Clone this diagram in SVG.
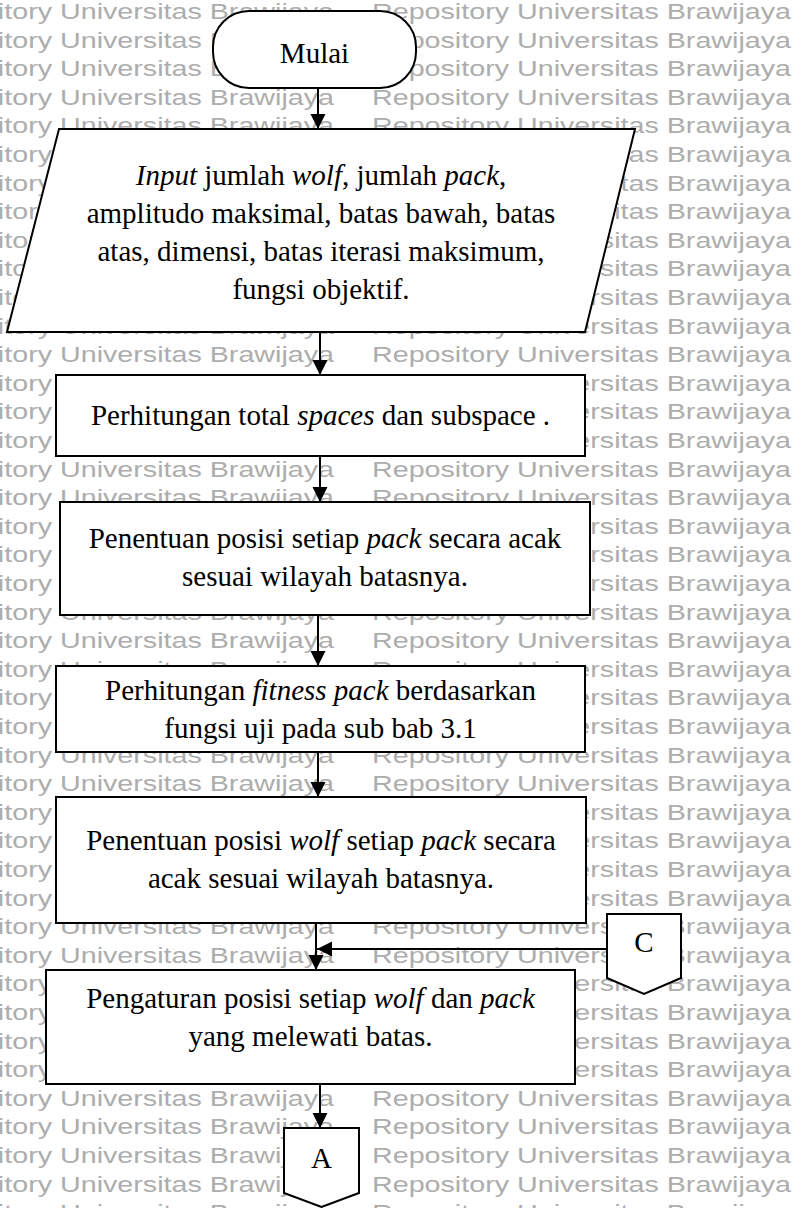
<svg xmlns="http://www.w3.org/2000/svg" xmlns:xlink="http://www.w3.org/1999/xlink" width="802" height="1208" viewBox="0 0 802 1208">
<style>
.wm{font-family:"Liberation Sans",Arial,sans-serif;font-size:22px;fill:#adadad}
.shape{fill:#fff;stroke:#000;stroke-width:2}
.lbl{font-family:"Liberation Serif","Times New Roman",serif;font-size:29px;fill:#000;text-anchor:middle}
.it{font-style:italic}
.con{fill:none;stroke:#000;stroke-width:2;marker-end:url(#ah)}
</style>
<defs>
<marker id="ah" markerUnits="userSpaceOnUse" markerWidth="16" markerHeight="16" refX="15" refY="7.5" orient="auto"><path d="M0,0 L15,7.5 L0,15 z" fill="#000"/></marker>
<text id="wmt" class="wm" textLength="419" lengthAdjust="spacingAndGlyphs">Repository Universitas Brawijaya</text>
</defs>
<rect width="802" height="1208" fill="#fff"/>
<g id="watermark">
<use xlink:href="#wmt" x="-85" y="19"/><use xlink:href="#wmt" x="372" y="19"/>
<use xlink:href="#wmt" x="-85" y="47.6"/><use xlink:href="#wmt" x="372" y="47.6"/>
<use xlink:href="#wmt" x="-85" y="76.2"/><use xlink:href="#wmt" x="372" y="76.2"/>
<use xlink:href="#wmt" x="-85" y="104.8"/><use xlink:href="#wmt" x="372" y="104.8"/>
<use xlink:href="#wmt" x="-85" y="133.4"/><use xlink:href="#wmt" x="372" y="133.4"/>
<use xlink:href="#wmt" x="-85" y="162"/><use xlink:href="#wmt" x="372" y="162"/>
<use xlink:href="#wmt" x="-85" y="190.6"/><use xlink:href="#wmt" x="372" y="190.6"/>
<use xlink:href="#wmt" x="-85" y="219.2"/><use xlink:href="#wmt" x="372" y="219.2"/>
<use xlink:href="#wmt" x="-85" y="247.8"/><use xlink:href="#wmt" x="372" y="247.8"/>
<use xlink:href="#wmt" x="-85" y="276.4"/><use xlink:href="#wmt" x="372" y="276.4"/>
<use xlink:href="#wmt" x="-85" y="305"/><use xlink:href="#wmt" x="372" y="305"/>
<use xlink:href="#wmt" x="-85" y="333.6"/><use xlink:href="#wmt" x="372" y="333.6"/>
<use xlink:href="#wmt" x="-85" y="362.2"/><use xlink:href="#wmt" x="372" y="362.2"/>
<use xlink:href="#wmt" x="-85" y="390.8"/><use xlink:href="#wmt" x="372" y="390.8"/>
<use xlink:href="#wmt" x="-85" y="419.4"/><use xlink:href="#wmt" x="372" y="419.4"/>
<use xlink:href="#wmt" x="-85" y="448"/><use xlink:href="#wmt" x="372" y="448"/>
<use xlink:href="#wmt" x="-85" y="476.6"/><use xlink:href="#wmt" x="372" y="476.6"/>
<use xlink:href="#wmt" x="-85" y="505.2"/><use xlink:href="#wmt" x="372" y="505.2"/>
<use xlink:href="#wmt" x="-85" y="533.8"/><use xlink:href="#wmt" x="372" y="533.8"/>
<use xlink:href="#wmt" x="-85" y="562.4"/><use xlink:href="#wmt" x="372" y="562.4"/>
<use xlink:href="#wmt" x="-85" y="591"/><use xlink:href="#wmt" x="372" y="591"/>
<use xlink:href="#wmt" x="-85" y="619.6"/><use xlink:href="#wmt" x="372" y="619.6"/>
<use xlink:href="#wmt" x="-85" y="648.2"/><use xlink:href="#wmt" x="372" y="648.2"/>
<use xlink:href="#wmt" x="-85" y="676.8"/><use xlink:href="#wmt" x="372" y="676.8"/>
<use xlink:href="#wmt" x="-85" y="705.4"/><use xlink:href="#wmt" x="372" y="705.4"/>
<use xlink:href="#wmt" x="-85" y="734"/><use xlink:href="#wmt" x="372" y="734"/>
<use xlink:href="#wmt" x="-85" y="762.6"/><use xlink:href="#wmt" x="372" y="762.6"/>
<use xlink:href="#wmt" x="-85" y="791.2"/><use xlink:href="#wmt" x="372" y="791.2"/>
<use xlink:href="#wmt" x="-85" y="819.8"/><use xlink:href="#wmt" x="372" y="819.8"/>
<use xlink:href="#wmt" x="-85" y="848.4"/><use xlink:href="#wmt" x="372" y="848.4"/>
<use xlink:href="#wmt" x="-85" y="877"/><use xlink:href="#wmt" x="372" y="877"/>
<use xlink:href="#wmt" x="-85" y="905.6"/><use xlink:href="#wmt" x="372" y="905.6"/>
<use xlink:href="#wmt" x="-85" y="934.2"/><use xlink:href="#wmt" x="372" y="934.2"/>
<use xlink:href="#wmt" x="-85" y="962.8"/><use xlink:href="#wmt" x="372" y="962.8"/>
<use xlink:href="#wmt" x="-85" y="991.4"/><use xlink:href="#wmt" x="372" y="991.4"/>
<use xlink:href="#wmt" x="-85" y="1020"/><use xlink:href="#wmt" x="372" y="1020"/>
<use xlink:href="#wmt" x="-85" y="1048.6"/><use xlink:href="#wmt" x="372" y="1048.6"/>
<use xlink:href="#wmt" x="-85" y="1077.2"/><use xlink:href="#wmt" x="372" y="1077.2"/>
<use xlink:href="#wmt" x="-85" y="1105.8"/><use xlink:href="#wmt" x="372" y="1105.8"/>
<use xlink:href="#wmt" x="-85" y="1134.4"/><use xlink:href="#wmt" x="372" y="1134.4"/>
<use xlink:href="#wmt" x="-85" y="1163"/><use xlink:href="#wmt" x="372" y="1163"/>
<use xlink:href="#wmt" x="-85" y="1191.6"/><use xlink:href="#wmt" x="372" y="1191.6"/>
<use xlink:href="#wmt" x="-85" y="1220.2"/><use xlink:href="#wmt" x="372" y="1220.2"/>
</g>
<g id="connectors">
<path class="con" d="M318,88 V129"/>
<path class="con" d="M320,332 V375"/>
<path class="con" d="M320,456 V502"/>
<path class="con" d="M318,615 V666"/>
<path class="con" d="M318,752 V797"/>
<path class="con" d="M316,923 V970"/>
<path class="con" d="M607,949 H317"/>
<path class="con" d="M320,1084 V1128"/>
</g>
<g id="start">
<rect class="shape" x="213" y="11" width="203" height="77" rx="36" ry="36"/>
<text class="lbl" x="314.5" y="63">Mulai</text>
</g>
<g id="input">
<polygon class="shape" points="59,129 635,129 585,332 7,332"/>
<text class="lbl" x="321" y="185"><tspan class="it">Input</tspan> jumlah <tspan class="it">wolf</tspan>, jumlah <tspan class="it">pack</tspan>,</text>
<text class="lbl" x="321" y="223">amplitudo maksimal, batas bawah, batas</text>
<text class="lbl" x="321" y="261">atas, dimensi, batas iterasi maksimum,</text>
<text class="lbl" x="321" y="299">fungsi objektif.</text>
</g>
<g id="total-spaces">
<rect class="shape" x="56" y="375" width="529" height="81"/>
<text class="lbl" x="320.5" y="425">Perhitungan total <tspan class="it">spaces</tspan> dan subspace .</text>
</g>
<g id="pack-position">
<rect class="shape" x="60" y="502" width="530" height="113"/>
<text class="lbl" x="325" y="548">Penentuan posisi setiap <tspan class="it">pack</tspan> secara acak</text>
<text class="lbl" x="325" y="586">sesuai wilayah batasnya.</text>
</g>
<g id="fitness-pack">
<rect class="shape" x="56" y="666" width="529" height="86"/>
<text class="lbl" x="320.5" y="700">Perhitungan <tspan class="it">fitness pack</tspan> berdasarkan</text>
<text class="lbl" x="320.5" y="738">fungsi uji pada sub bab 3.1</text>
</g>
<g id="wolf-position">
<rect class="shape" x="56" y="797" width="530" height="126"/>
<text class="lbl" x="321" y="850">Penentuan posisi <tspan class="it">wolf</tspan> setiap <tspan class="it">pack</tspan> secara</text>
<text class="lbl" x="321" y="888">acak sesuai wilayah batasnya.</text>
</g>
<g id="boundary">
<rect class="shape" x="46" y="970" width="529" height="114"/>
<text class="lbl" x="310.5" y="1008">Pengaturan posisi setiap <tspan class="it">wolf</tspan> dan <tspan class="it">pack</tspan></text>
<text class="lbl" x="310.5" y="1046">yang melewati batas.</text>
</g>
<g id="connector-c">
<polygon class="shape" points="607,914 681,914 681,978 644,994 607,978"/>
<text class="lbl" x="644" y="952">C</text>
</g>
<g id="connector-a">
<polygon class="shape" points="284,1128 359,1128 359,1193 321.5,1207 284,1193"/>
<text class="lbl" x="321.5" y="1168">A</text>
</g>
</svg>
